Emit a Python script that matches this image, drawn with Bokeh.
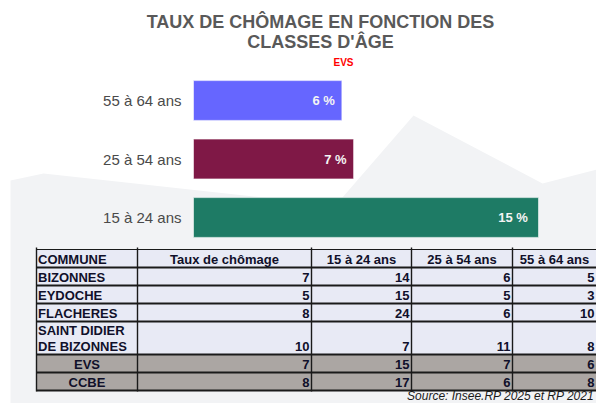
from bokeh.plotting import figure
from bokeh.models import Range1d, ColumnDataSource
from bokeh.embed import file_html
from bokeh.resources import INLINE
from bokeh.core.properties import value

# ---------------- data ----------------
title_lines = ["TAUX DE CHÔMAGE EN FONCTION DES", "CLASSES D'ÂGE"]
subtitle = "EVS"
age_classes = ["15 à 24 ans", "25 à 54 ans", "55 à 64 ans"]
evs_rates = [15.0, 6.96, 6.45]
bar_labels = ["15  %", "7 %", "6 %"]
bar_colors = ["#1e7b65", "#7f1846", "#6666ff"]

table_header = ["COMMUNE", "Taux de chômage", "15 à 24 ans", "25 à 54 ans", "55 à 64 ans"]
communes = ["BIZONNES", "EYDOCHE", "FLACHERES", "SAINT DIDIER\nDE BIZONNES", "EVS", "CCBE"]
taux_chomage = [7, 5, 8, 10, 7, 8]
chom_15_24 = [14, 15, 24, 7, 15, 17]
chom_25_54 = [6, 5, 6, 11, 7, 6]
chom_55_64 = [5, 3, 10, 8, 6, 8]
total_rows = ["EVS", "CCBE"]
source_note = "Source: Insee.RP 2025 et RP 2021"

# ---------------- layout (pixel styles) ----------------
W, H = 596, 403
OX, OY = 0, 0
FONT = value("Liberation Sans")

def mid(baseline, size):
    # vertical middle of a text line whose baseline is given
    return baseline - 0.35 * size

p = figure(width=W, height=H, x_range=Range1d(OX, OX + W), y_range=Range1d(OY + H, OY),
           output_backend="svg", toolbar_location=None, min_border=0,
           x_axis_location=None, y_axis_location=None)
p.xgrid.visible = False
p.ygrid.visible = False
p.outline_line_color = None
p.background_fill_color = "white"
p.border_fill_color = "white"

# decorative mountain background
p.patch([10, 43, 335, 413, 542, 612, 612, 10],
        [180, 173, 205, 115, 183, 165, 420, 420],
        fill_color="#f2f3f5", line_color=None)

# ---------------- bar chart ----------------
BAR0_PX = 193.0
PX_PER_PCT = 23.0
ROW0_PY = 217.0
ROW_STEP = 58.5
p.extra_x_ranges = {"pct": Range1d(-(BAR0_PX - OX) / PX_PER_PCT, (OX + W - BAR0_PX) / PX_PER_PCT)}
p.extra_y_ranges = {"rows": Range1d((ROW0_PY - (OY + H)) / ROW_STEP, (ROW0_PY - OY) / ROW_STEP)}

bsrc = ColumnDataSource(dict(y=list(range(len(age_classes))), v=evs_rates, lab=bar_labels,
                             cat=age_classes, color=bar_colors, zero=[0] * len(age_classes)))
p.hbar(y="y", left=0, right="v", height=0.68, fill_color="color", line_color="#ffffff",
       line_alpha=0.55, line_width=1, source=bsrc, x_range_name="pct", y_range_name="rows")
p.text(x="v", y="y", text="lab", x_offset=-7, text_align="right", text_baseline="middle",
       text_font=FONT, text_font_style="bold", text_font_size="13px", text_color="#f4f4f4",
       source=bsrc, x_range_name="pct", y_range_name="rows")
p.text(x="zero", y="y", text="cat", x_offset=-12, text_align="right", text_baseline="middle",
       text_font=FONT, text_font_size="15px", text_color="#4a4a4a",
       source=bsrc, x_range_name="pct", y_range_name="rows")

# ---------------- titles ----------------
p.text(x=[320, 320], y=[mid(28, 18), mid(48, 18)], text=title_lines, text_align="center",
       text_baseline="middle", text_font=FONT, text_font_style="bold", text_font_size="18px",
       text_color="#595959")
p.text(x=[343], y=[mid(65, 10)], text=[subtitle], text_align="center", text_baseline="middle",
       text_font=FONT, text_font_style="bold", text_font_size="10px", text_color="#ff0000")

# ---------------- table ----------------
col_edges = [36, 137, 311, 411, 512, 596]
row_edges = [249, 267, 285, 303, 321, 354, 372, 390]
RIGHT = OX + W
TXT = "#10102a"
TS = 13

n_rows = len(row_edges) - 1
fills = ["#aba6a3" if (r >= 1 and communes[r - 1] in total_rows) else "#e8eaf5" for r in range(n_rows)]
p.quad(left=[col_edges[0]] * n_rows, right=[RIGHT] * n_rows,
       top=row_edges[:-1], bottom=row_edges[1:], fill_color=fills, line_color=None)

# horizontal rules
hw = [1.2] + [2.0] * (len(row_edges) - 1)
p.segment(x0=[col_edges[0]] * len(row_edges), x1=[RIGHT] * len(row_edges),
          y0=row_edges, y1=row_edges, line_color="#1a1a1a", line_width=hw)
# vertical rules
vx = col_edges[:-1]
p.segment(x0=vx, x1=vx, y0=[row_edges[0] - 2] * len(vx), y1=[row_edges[-1] + 1] * len(vx),
          line_color="#1a1a1a", line_width=1.4)

def centers(i):
    return (col_edges[i] + col_edges[i + 1]) / 2.0

# header
hx, hy, ht, ha = [], [], [], []
for i, h in enumerate(table_header):
    if i == 0:
        hx.append(col_edges[0] + 1.5); ha.append("left")
    else:
        hx.append(centers(i)); ha.append("center")
    hy.append(mid(row_edges[1] - 3, TS))
    ht.append(h)
p.text(x=hx, y=hy, text=ht, text_align=ha, text_baseline="middle",
       text_font=FONT, text_font_style="bold", text_font_size=f"{TS}px", text_color=TXT)

# commune names
nx, ny, nt, na = [], [], [], []
for k, name in enumerate(communes):
    bottom = row_edges[k + 2]
    lines = name.split("\n")
    for j, ln in enumerate(lines):
        if name in total_rows:
            nx.append(centers(0)); na.append("center")
        else:
            nx.append(col_edges[0] + 1.5); na.append("left")
        ny.append(mid(bottom - 3 - 16 * (len(lines) - 1 - j), TS))
        nt.append(ln)
p.text(x=nx, y=ny, text=nt, text_align=na, text_baseline="middle",
       text_font=FONT, text_font_style="bold", text_font_size=f"{TS}px", text_color=TXT)

# numbers
columns = [taux_chomage, chom_15_24, chom_25_54, chom_55_64]
vx_, vy_, vt_ = [], [], []
for c, col in enumerate(columns):
    for k, v in enumerate(col):
        vx_.append(col_edges[c + 2] - 2)
        vy_.append(mid(row_edges[k + 2] - 3, TS))
        vt_.append(str(v))
p.text(x=vx_, y=vy_, text=vt_, text_align="right", text_baseline="middle",
       text_font=FONT, text_font_style="bold", text_font_size=f"{TS}px", text_color=TXT)

# source
p.text(x=[594], y=[mid(400, 12)], text=[source_note], text_align="right", text_baseline="middle",
       text_font=FONT, text_font_style="italic", text_font_size="12px", text_color="#1a1a1a")

open("out.html", "w").write(file_html(p, INLINE))
